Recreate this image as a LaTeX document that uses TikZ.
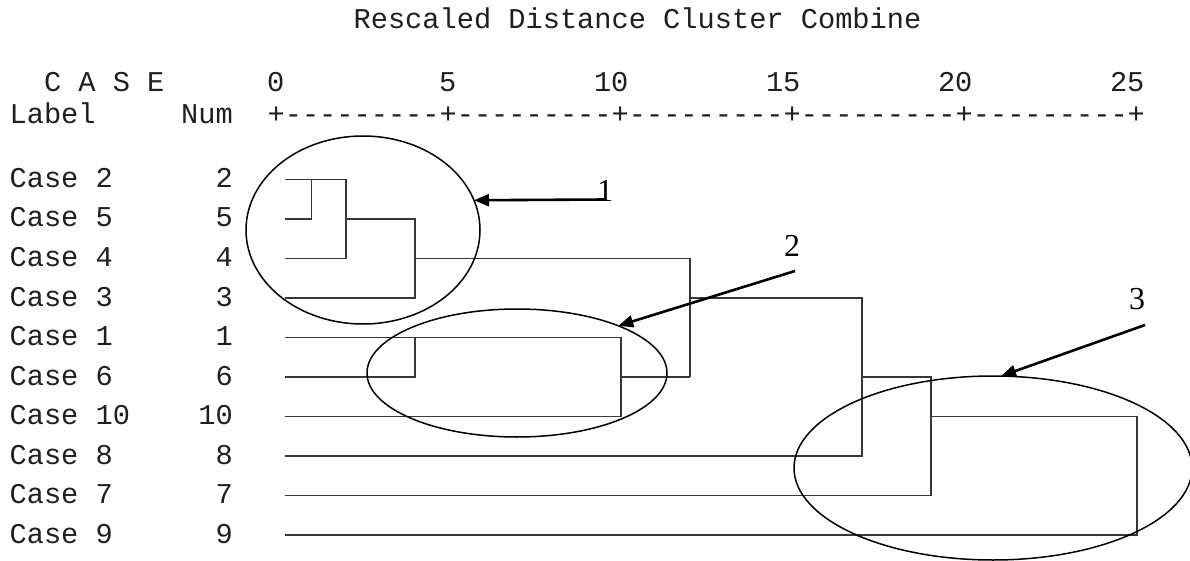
\documentclass[tikz,border=0pt]{standalone}
\usepackage{fontspec}
\setmainfont{Liberation Serif}
\newfontfamily\spssmono{Liberation Mono}
\usetikzlibrary{arrows.meta,shapes.geometric}

\tikzset{
  mono/.style={font=\spssmono\fontsize{28.67}{30}\selectfont, inner sep=0pt, text=black!88},
  tree/.style={draw=black!78, line width=1.8pt},
  ring/.style={draw=black, line width=1.5pt, ellipse, inner sep=0pt, outer sep=0pt},
  callout/.style={draw=black, line width=2.6pt, -{Triangle[length=15pt,width=12pt]}},
  tag/.style={font=\fontsize{32}{34}\selectfont, inner sep=0pt}
}

\begin{document}
\begin{tikzpicture}[x=1pt,y=-1pt]
\useasboundingbox[fill=white] (0,0) rectangle (1190,561);

% ---- header lines ----
\node[mono, anchor=base west] (title) at (353.4,29) {Rescaled Distance Cluster Combine};
\node[mono, anchor=base west] (case) at (43.8,92) {C A S E};
\node[mono, anchor=base east] (t0)  at (284.6,92)  {0};
\node[mono, anchor=base east] (t5)  at (456.6,92)  {5};
\node[mono, anchor=base east] (t10) at (628.6,92)  {10};
\node[mono, anchor=base east] (t15) at (800.6,92)  {15};
\node[mono, anchor=base east] (t20) at (972.6,92)  {20};
\node[mono, anchor=base east] (t25) at (1144.6,92) {25};
\node[mono, anchor=base west] (lbl) at (9.4,123.5) {Label};
\node[mono, anchor=base east] (num) at (233,123.5) {Num};
\node[mono, anchor=base west] (axis) at (267.4,123.5)
  {+---------+---------+---------+---------+---------+};

% ---- case rows: label, number and the start of each leaf line ----
\foreach \k/\y in {2/179.5, 5/219, 4/258.5, 3/298, 1/337.5,
                   6/377, 10/416.5, 8/456, 7/495.5, 9/535} {
  \node[mono, anchor=base west] (lab\k) at (9.4,\y+8) {Case \k};
  \node[mono, anchor=base east] (n\k) at (233,\y+8) {\k};
  \coordinate (l\k) at (285,\y);
}

% ---- distance levels ----
\coordinate (d1)  at (311.4,0);
\coordinate (d2)  at (345.8,0);
\coordinate (d4)  at (414.6,0);
\coordinate (d10) at (621,0);
\coordinate (d12) at (689.8,0);
\coordinate (d17) at (861.8,0);
\coordinate (d19) at (930.6,0);
\coordinate (d25) at (1137,0);

% ---- dendrogram ----
\draw[tree] (l5) -- (l5 -| d1) -- (l2 -| d1);
\draw[tree] (l2) -- (l2 -| d2) -- (l4 -| d2) -- (l4);
\draw[tree] (l5 -| d2) -- (l5 -| d4) -- (l3 -| d4) -- (l3);
\draw[tree] (l4 -| d4) -- (l4 -| d12) -- (l6 -| d12);
\draw[tree] (l6) -- (l6 -| d4) -- (l1 -| d4);
\draw[tree] (l1) -- (l1 -| d10) -- (l10 -| d10) -- (l10);
\draw[tree] (l6 -| d10) -- (l6 -| d12);
\draw[tree] (l3 -| d12) -- (l3 -| d17) -- (l8 -| d17) -- (l8);
\draw[tree] (l6 -| d17) -- (l6 -| d19) -- (l7 -| d19) -- (l7);
\draw[tree] (l10 -| d19) -- (l10 -| d25) -- (l9 -| d25) -- (l9);

% ---- cluster outlines ----
\node[ring, minimum width=234pt, minimum height=188pt] (g1) at (363,230) {};
\node[ring, minimum width=300pt, minimum height=128pt] (g2) at (517,373) {};
\node[ring, minimum width=398pt, minimum height=184pt] (g3) at (993,468) {};

% ---- numbered callouts ----
\node[tag] (k1) at (605,191) {1};
\node[tag] (k2) at (792,246) {2};
\node[tag] (k3) at (1137,299) {3};
\coordinate (a1) at (606,199.5);
\coordinate (a2) at (795,271);
\coordinate (a3) at (1145,325);
\draw[callout] (a1) -- (g1.15.7);
\draw[callout] (a2) -- (g2.25);
\draw[callout] (a3) -- (g3.85);
\end{tikzpicture}
\end{document}
